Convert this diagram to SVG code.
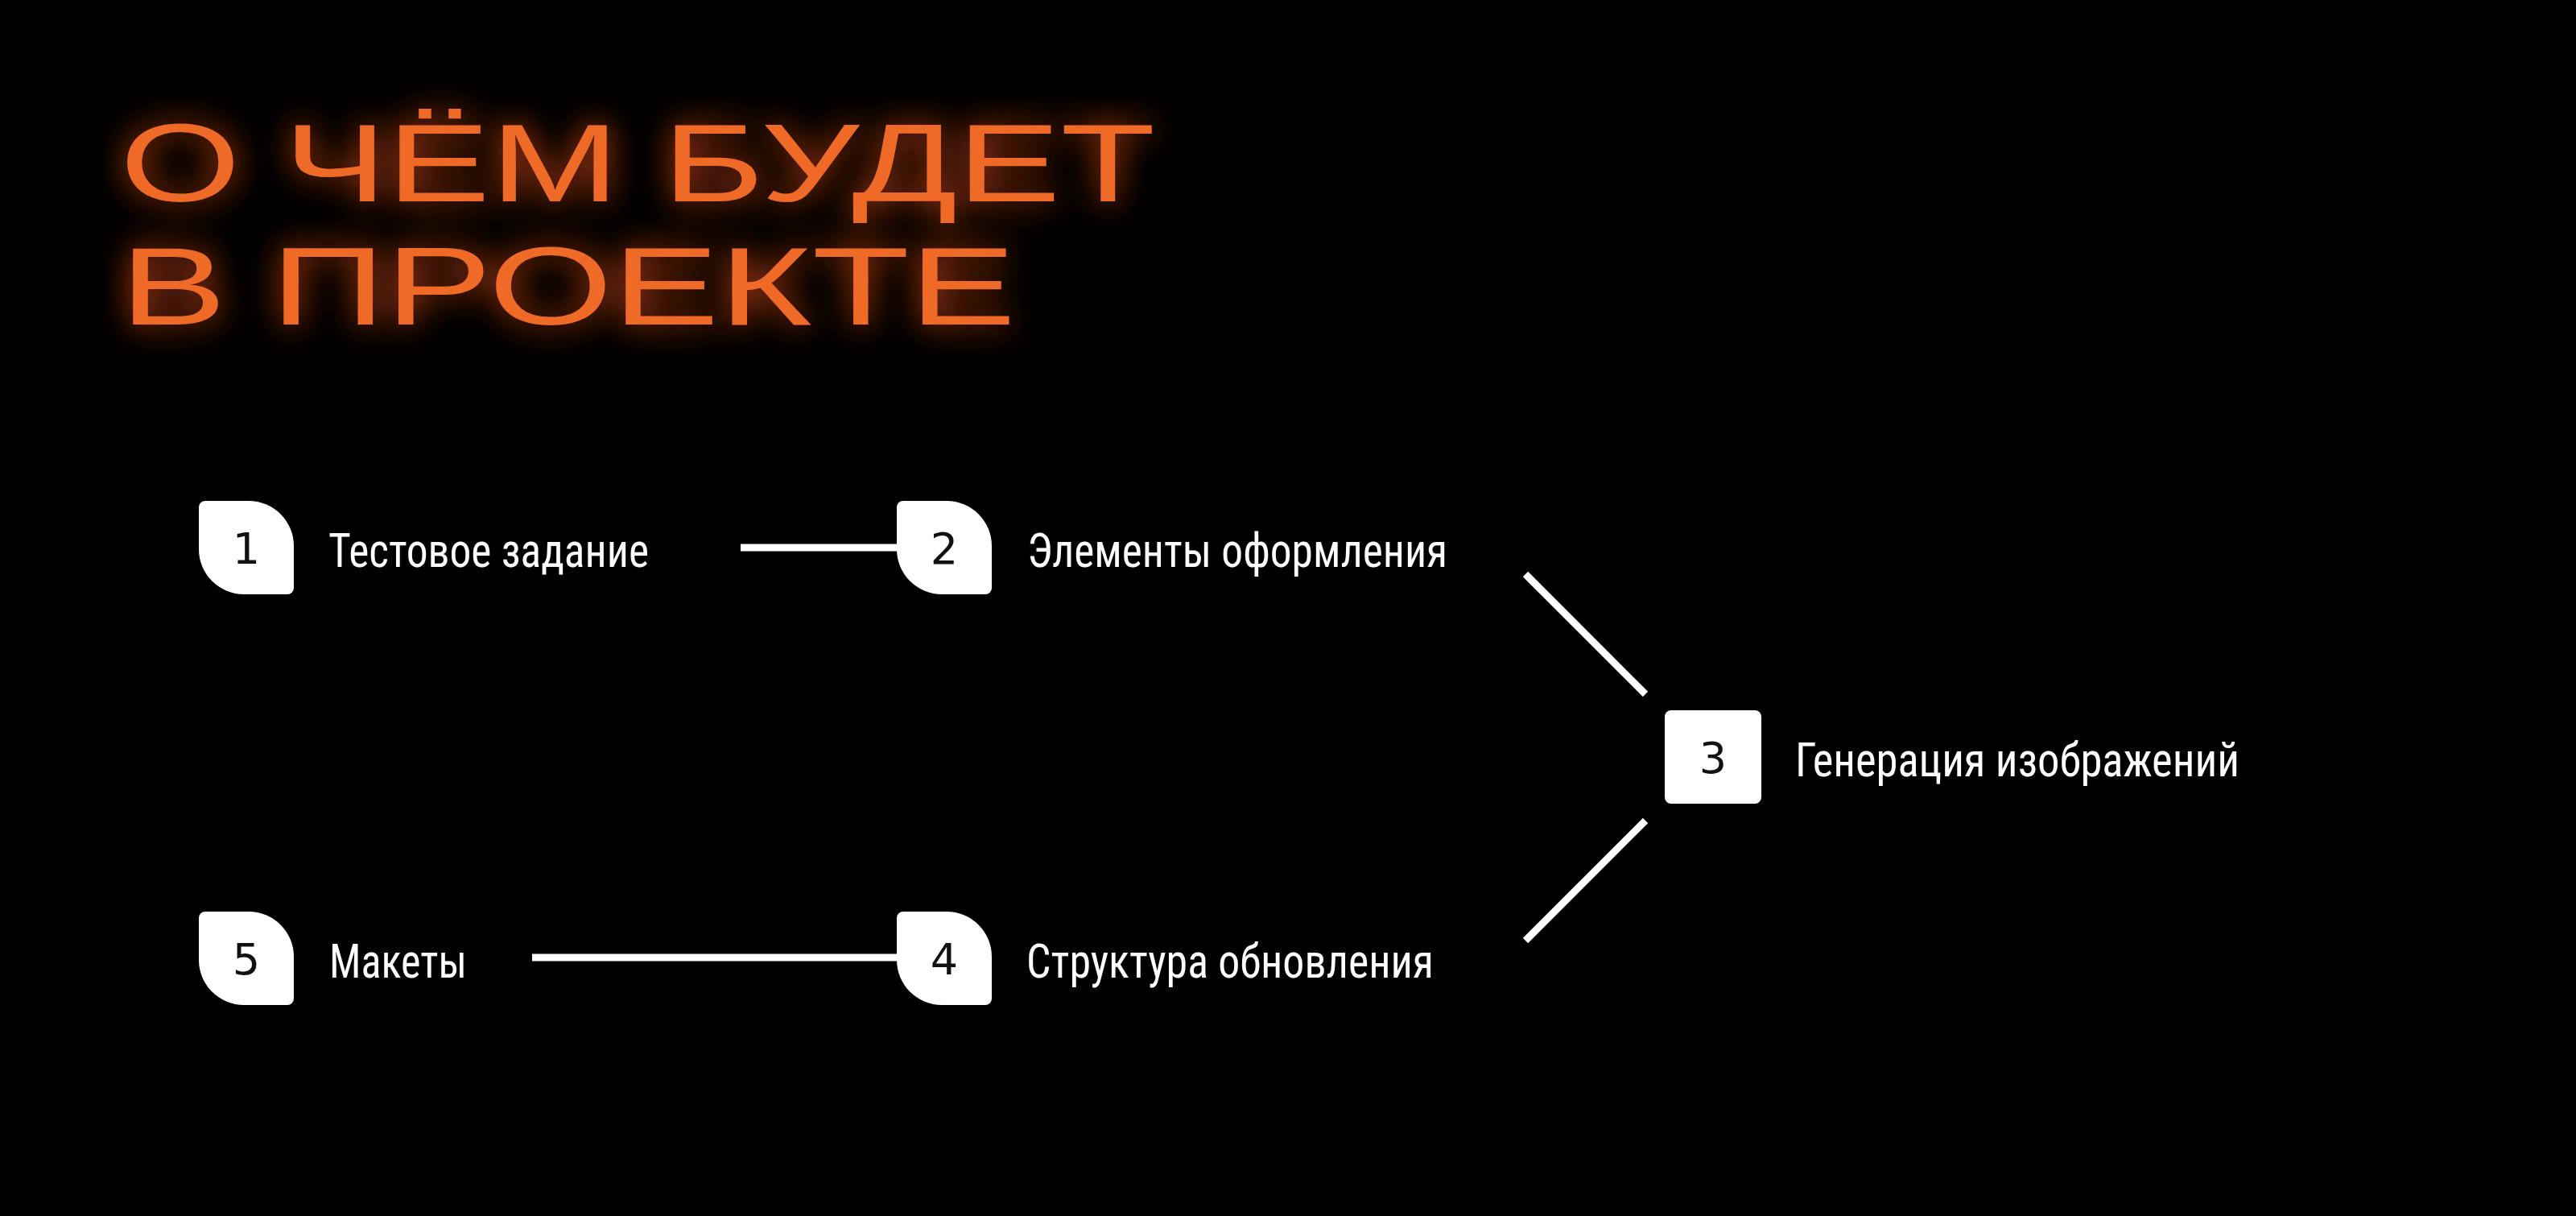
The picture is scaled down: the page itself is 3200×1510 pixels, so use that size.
<svg xmlns="http://www.w3.org/2000/svg" width="3200" height="1510" viewBox="0 0 3200 1510">
<defs>
<style>
.title{font-family:"Liberation Sans","DejaVu Sans",sans-serif;font-size:138px;fill:#EE6A28}
.num{font-family:"DejaVu Sans","Liberation Sans",sans-serif;font-size:54px;fill:#111111;text-anchor:middle}
.lbl{font-family:"Roboto Condensed","Liberation Sans Narrow","DejaVu Sans Condensed",Roboto,sans-serif;font-size:59px;fill:#FFFFFF}
.box{fill:#FFFFFF}
.conn{stroke:#FFFFFF;stroke-width:9;fill:none;stroke-linecap:butt}
</style>
<filter id="glow" x="-10%" y="-40%" width="120%" height="180%">
<feGaussianBlur in="SourceGraphic" stdDeviation="20" result="b"/>
<feColorMatrix in="b" type="matrix" values="1 0 0 0 0  0 0.55 0 0 0  0 0 0.35 0 0  0 0 0 0.9 0" result="g"/>
<feMerge><feMergeNode in="g"/><feMergeNode in="SourceGraphic"/></feMerge>
</filter>
</defs>
<rect x="0" y="0" width="3200" height="1510" fill="#000000"/>
<g id="title" filter="url(#glow)">
<text class="title" x="149" y="250" textLength="1286" lengthAdjust="spacingAndGlyphs">О ЧЁМ БУДЕТ</text>
<text class="title" x="149" y="403" textLength="1113" lengthAdjust="spacingAndGlyphs">В ПРОЕКТЕ</text>
</g>
<g id="connectors">
<line class="conn" x1="920" y1="680" x2="1116" y2="680"/>
<line class="conn" x1="661" y1="1189" x2="1116" y2="1189"/>
<line class="conn" x1="1895" y1="713" x2="2044" y2="862"/>
<line class="conn" x1="2044" y1="1019" x2="1895" y2="1168"/>
</g>
<g id="node1">
<path class="box" d="M255,622 H309 A56,56 0 0 1 365,678 V730 A8,8 0 0 1 357,738 H303 A56,56 0 0 1 247,682 V630 A8,8 0 0 1 255,622 Z"/>
<text class="num" x="306" y="700">1</text>
<text class="lbl" x="408" y="704" textLength="398" lengthAdjust="spacingAndGlyphs">Тестовое задание</text>
</g>
<g id="node2">
<path class="box" d="M1122,622 H1176 A56,56 0 0 1 1232,678 V730 A8,8 0 0 1 1224,738 H1170 A56,56 0 0 1 1114,682 V630 A8,8 0 0 1 1122,622 Z"/>
<text class="num" x="1173" y="700">2</text>
<text class="lbl" x="1276" y="704" textLength="522" lengthAdjust="spacingAndGlyphs">Элементы оформления</text>
</g>
<g id="node3">
<rect class="box" x="2068" y="882" width="120" height="116" rx="8" ry="8"/>
<text class="num" x="2128" y="960">3</text>
<text class="lbl" x="2230" y="964" textLength="552" lengthAdjust="spacingAndGlyphs">Генерация изображений</text>
</g>
<g id="node4">
<path class="box" d="M1122,1132 H1176 A56,56 0 0 1 1232,1188 V1240 A8,8 0 0 1 1224,1248 H1170 A56,56 0 0 1 1114,1192 V1140 A8,8 0 0 1 1122,1132 Z"/>
<text class="num" x="1173" y="1210">4</text>
<text class="lbl" x="1275" y="1214" textLength="506" lengthAdjust="spacingAndGlyphs">Структура обновления</text>
</g>
<g id="node5">
<path class="box" d="M255,1132 H309 A56,56 0 0 1 365,1188 V1240 A8,8 0 0 1 357,1248 H303 A56,56 0 0 1 247,1192 V1140 A8,8 0 0 1 255,1132 Z"/>
<text class="num" x="306" y="1210">5</text>
<text class="lbl" x="409" y="1214" textLength="171" lengthAdjust="spacingAndGlyphs">Макеты</text>
</g>
</svg>
